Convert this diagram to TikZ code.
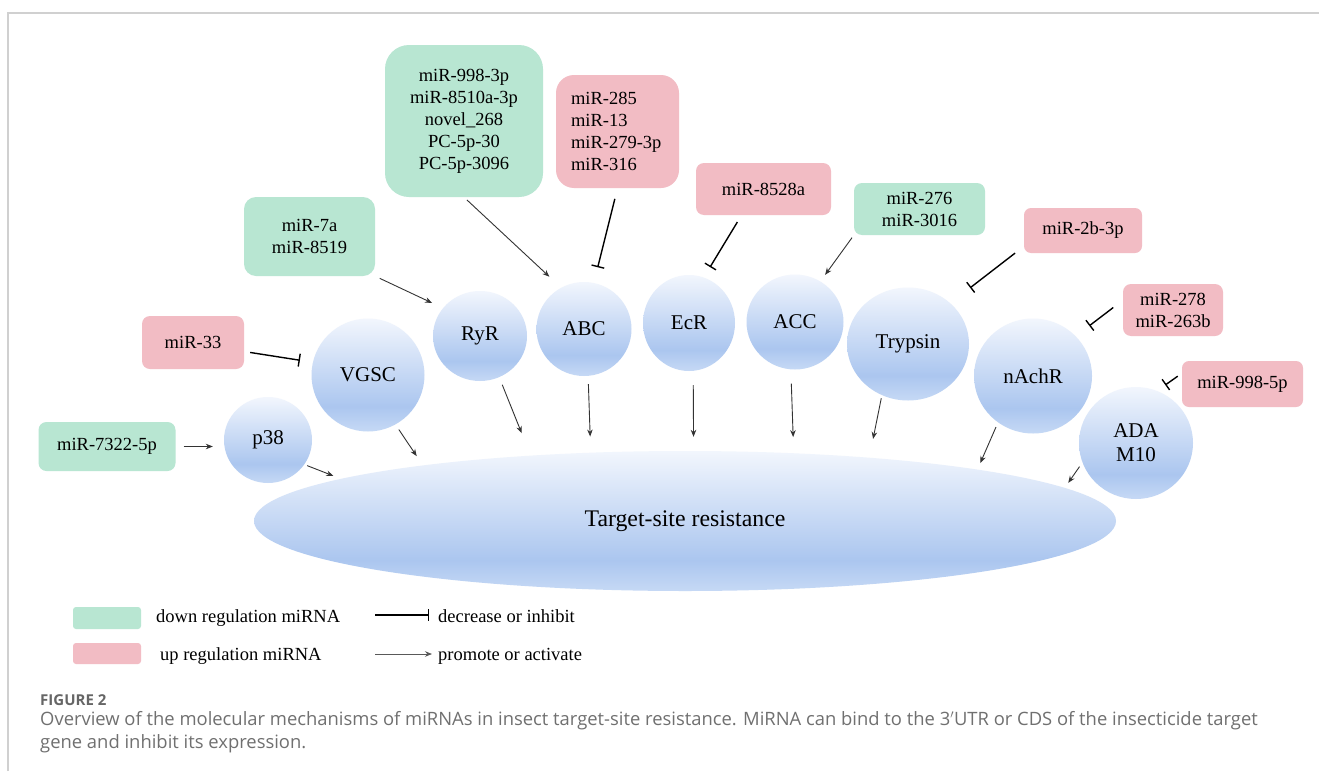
\documentclass[tikz,border=0pt]{standalone}
\usepackage{fontspec}
\setmainfont{Liberation Serif}
\newfontfamily\capfont{Open Sans}
\usetikzlibrary{shapes.geometric,arrows.meta}
\definecolor{downgreen}{HTML}{B8E6D2}
\definecolor{uppink}{HTML}{F2BCC4}
\definecolor{bubtop}{HTML}{F2F6FD}
\definecolor{bubmid}{HTML}{ABC6EF}
\definecolor{bubbot}{HTML}{C6D9F5}
\definecolor{capgray}{HTML}{707070}
\definecolor{framegray}{HTML}{D0D0D0}
\pgfdeclareverticalshading{bubble}{100bp}{color(0bp)=(bubbot); color(25bp)=(bubbot); color(36bp)=(bubmid); color(75bp)=(bubtop); color(100bp)=(bubtop)}

\tikzset{
	mirna/.style={rounded corners=#1, align=center, inner sep=0pt, font=\fontsize{18.5}{22}\selectfont},
	downreg/.style={mirna=#1, fill=downgreen},
	upreg/.style={mirna=#1, fill=uppink},
	gene/.style={ellipse, shade, shading=bubble, inner sep=0pt, align=center, font=\fontsize{21}{24}\selectfont},
	act/.style={-{Stealth[length=7pt,width=5.5pt]}, line width=0.9pt, black!80},
	inh/.style={-{Bar[width=13pt,line width=1.4pt]}, line width=1.4pt},
	legtext/.style={anchor=base west, inner sep=0pt, font=\fontsize{18.5}{22}\selectfont}
}

\begin{document}
\begin{tikzpicture}[x=1pt,y=-1pt]
	\useasboundingbox (0,0) rectangle (1319,771);
	\fill[white] (0,0) rectangle (1319,771);
	\draw[framegray, line width=1.5pt] (8,771) -- (8,13) -- (1319,13);

	% target and genes
	\node[gene, minimum width=862pt, minimum height=140pt, font=\fontsize{23.8}{26}\selectfont] (target) at (685,521) {Target-site resistance};
	\node[gene, minimum width=88pt, minimum height=86pt] (p38) at (268,440) {p38};
	\node[gene, minimum width=113pt, minimum height=113pt] (vgsc) at (368,375) {VGSC};
	\node[gene, minimum width=94pt, minimum height=90pt] (ryr) at (480,336) {RyR};
	\node[gene, minimum width=95pt, minimum height=94pt] (abc) at (584,329) {ABC};
	\node[gene, minimum width=92pt, minimum height=96pt] (ecr) at (689,323) {EcR};
	\node[gene, minimum width=97pt, minimum height=95pt] (acc) at (795,322) {ACC};
	\node[gene, minimum width=122pt, minimum height=113pt] (trypsin) at (908,344) {Trypsin};
	\node[gene, minimum width=118pt, minimum height=115pt] (nachr) at (1033,376) {nAchR};
	\node[gene, minimum width=114pt, minimum height=112pt] (adam) at (1136,443) {ADA\\M10};

	% miRNA boxes
	\node[downreg=24pt, minimum width=158pt, minimum height=152pt] (dbig) at (464,121) {miR-998-3p\\miR-8510a-3p\\novel\_268\\PC-5p-30\\PC-5p-3096};
	\node[upreg=18pt, minimum width=123pt, minimum height=113pt, inner xsep=15pt, text width=93pt, align=left] (ubig) at (617.5,131.5) {miR-285\\miR-13\\miR-279-3p\\miR-316};
	\node[upreg=8pt, minimum width=135pt, minimum height=52pt] (m8528a) at (763.5,189) {miR-8528a};
	\node[downreg=8pt, minimum width=131pt, minimum height=52pt] (m276) at (919.5,209) {miR-276\\miR-3016};
	\node[upreg=7pt, minimum width=118pt, minimum height=45pt] (m2b) at (1083,230.5) {miR-2b-3p};
	\node[upreg=8pt, minimum width=100pt, minimum height=52pt] (m278) at (1173,310) {miR-278\\miR-263b};
	\node[upreg=7pt, minimum width=121pt, minimum height=46pt] (m998) at (1242.5,384) {miR-998-5p};
	\node[downreg=12pt, minimum width=131pt, minimum height=79pt] (m7a) at (309.5,236.5) {miR-7a\\miR-8519};
	\node[upreg=8pt, minimum width=102pt, minimum height=53pt] (m33) at (193,342.5) {miR-33};
	\node[downreg=8pt, minimum width=137pt, minimum height=49pt] (m7322) at (107,446.5) {miR-7322-5p};

	% miRNA to genes
	\draw[act, shorten <=8pt, shorten >=11pt] (m7322.east) -- (m7322.east -| p38.west);
	\draw[act, shorten <=5pt, shorten >=12pt] (m7a.south east) -- (ryr.143);
	\draw[act, shorten <=4pt, shorten >=16pt] (dbig.south) -- (abc.119);
	\draw[act, shorten <=3pt, shorten >=8pt] (m276.south west) -- (acc.58);
	\draw[inh, shorten <=6pt, shorten >=13pt] (m33.-10) -- (vgsc.167);
	\draw[inh, shorten <=11pt, shorten >=16pt] (ubig.south) -- (abc.78);
	\draw[inh, shorten <=8pt, shorten >=12pt] (m8528a.-130) -- (ecr.72);
	\draw[inh, shorten <=11pt, shorten >=25pt] (m2b.195) -- (trypsin.44);
	\draw[inh, shorten <=12pt, shorten >=17pt] (m278.169) -- (nachr.43);
	\draw[inh, shorten <=5pt, shorten >=10pt] (m998.170) -- (adam.68);

	% genes to target
	\draw[act, shorten <=3pt, shorten >=8pt] (p38.-34) -- (target.173.7);
	\draw[act, shorten <=6pt, shorten >=11pt] (vgsc.-61) -- (target.168);
	\draw[act, shorten <=8pt, shorten >=24pt] (ryr.-65) -- (target.157);
	\draw[act, shorten <=8pt, shorten >=16pt] (abc.-85) -- (target.144.9);
	\draw[act, shorten <=14pt, shorten >=14pt] (ecr.-85) -- (target.83.5);
	\draw[act, shorten <=14pt, shorten >=16pt] (acc.-95) -- (target.32.6);
	\draw[act, shorten <=3pt, shorten >=19pt] (trypsin.-117) -- (target.19.8);
	\draw[act, shorten <=5pt, shorten >=7pt] (nachr.-127) -- (target.10.3);
	\draw[act, shorten <=5pt, shorten >=6pt] (adam.-160) -- (target.5.25);

	% legend
	\node[fill=downgreen, rounded corners=3pt, minimum width=68pt, minimum height=22pt, inner sep=0pt] (swdown) at (107,618) {};
	\node[fill=uppink, rounded corners=3pt, minimum width=68pt, minimum height=21pt, inner sep=0pt] (swup) at (107,653.5) {};
	\node[legtext] (txtdown) at (156,622) {down regulation miRNA};
	\node[legtext] (txtup) at (160,660) {up regulation miRNA};
	\node[legtext] (txtinh) at (438,622) {decrease or inhibit};
	\node[legtext] (txtact) at (438,660) {promote or activate};
	\coordinate (leginh) at (375,615);
	\coordinate (legact) at (375,654);
	\draw[-{Bar[width=12pt,line width=1.4pt]}, line width=1.4pt, shorten >=9pt] (leginh) -- (leginh -| txtinh.west);
	\draw[act, black!65, shorten >=6pt] (legact) -- (legact -| txtact.west);

	% caption
	\node[anchor=base west, inner sep=0pt, text=black!60, font=\capfont\bfseries\fontsize{15}{18}\selectfont] (figno) at (40,705) {FIGURE 2};
	\node[anchor=base west, inner sep=0pt, align=left, text=capgray, font=\capfont\fontsize{18.4}{23}\selectfont] (caption) at (40,748) {Overview of the molecular mechanisms of miRNAs in insect target-site resistance. MiRNA can bind to the 3$'$UTR or CDS of the insecticide target\\gene and inhibit its expression.};
\end{tikzpicture}
\end{document}
